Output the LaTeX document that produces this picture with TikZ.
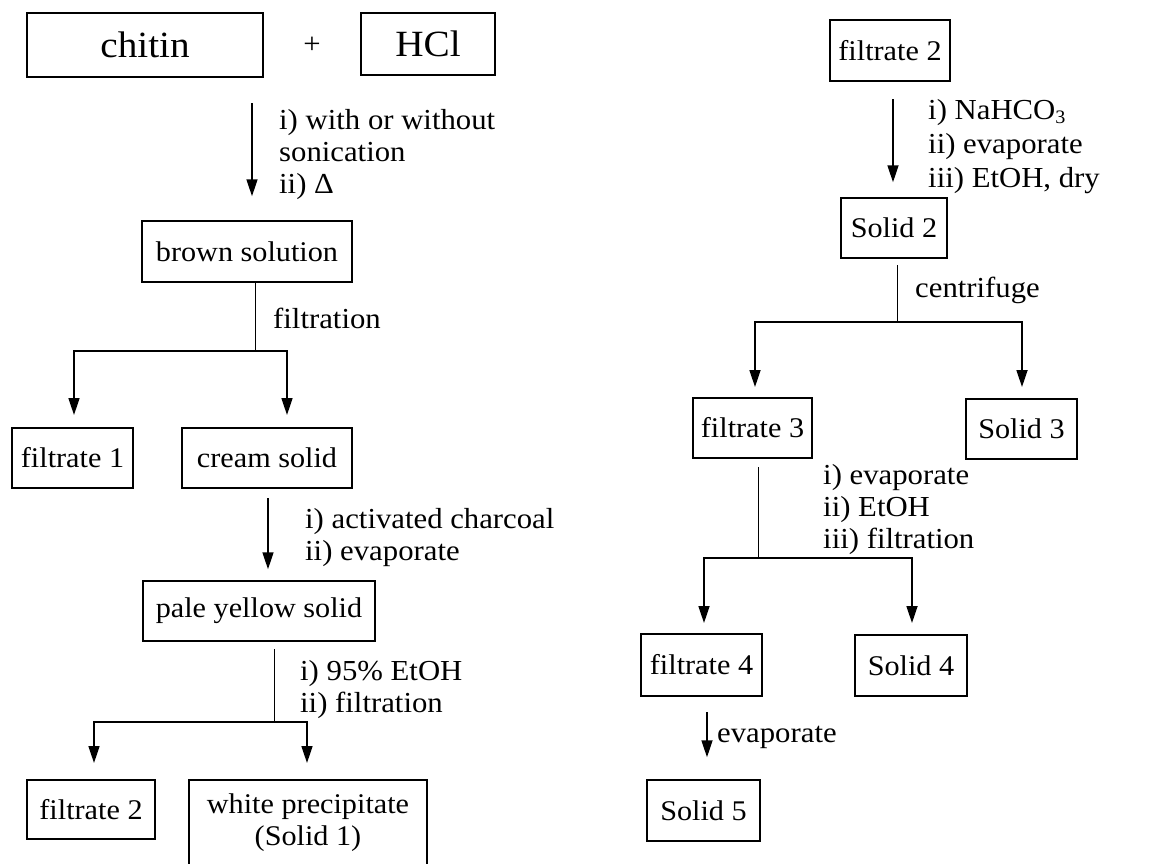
\documentclass[tikz,border=0pt]{standalone}
\usepackage{fontspec}
\setmainfont{Liberation Serif}[FakeStretch=1.06]
\usetikzlibrary{arrows.meta}
\begin{document}
\begin{tikzpicture}[x=1pt,y=-1pt,
  box/.style={draw,line width=1.5pt,inner sep=0pt,font=\fontsize{28.5}{32}\selectfont},
  bigbox/.style={box,font=\fontsize{37}{44}\selectfont},
  lbl/.style={anchor=base west,align=left,inner sep=0pt,font=\fontsize{29}{32}\selectfont},
  arr/.style={line width=1.7pt,-{Triangle[length=17pt,width=11pt]}},
  stem/.style={line width=0.9pt},
  branch/.style={line width=1.7pt,-{Triangle[length=17pt,width=11pt]}}]
\useasboundingbox (0,0) rectangle (1162,863);
\fill[white] (0,0) rectangle (1162,863);
% ---------- left column ----------
\node[bigbox,minimum width=236pt,minimum height=64pt] (chitin) at (145,45) {chitin};
\node[font=\fontsize{29}{33}\selectfont] (plus) at (312,45) {+};
\node[bigbox,minimum width=134pt,minimum height=62pt] (hcl) at (428,44) {HCl};
\node[box,minimum width=210pt,minimum height=61pt] (brown) at (247,251.5) {brown solution};
\node[box,minimum width=121pt,minimum height=60pt] (f1) at (72.5,458) {filtrate 1};
\node[box,minimum width=170pt,minimum height=60pt] (cream) at (267,458) {cream solid};
\node[box,minimum width=232pt,minimum height=60pt] (pale) at (259,611) {pale yellow solid};
\node[box,minimum width=128pt,minimum height=59pt] (f2l) at (91,809.5) {filtrate 2};
\node[box,minimum width=238pt,minimum height=86pt,align=center] (white) at (308,823) {white precipitate\\(Solid 1)};

\coordinate (a1s) at (252,103);
\draw[arr,shorten >=24pt] (a1s) -- (a1s |- brown.north);
\node[lbl] (l1) at (279,193) {i) with or without\\sonication\\ii) Δ};

\coordinate (s1) at (255,351);
\draw[stem] (s1 |- brown.south) -- (s1);
\draw[branch,shorten >=13pt] (s1) -| (74,428);
\draw[branch,shorten >=13pt] (s1) -| (287,428);
\node[lbl] (l2) at (273,328) {filtration};

\coordinate (a2s) at (268,498);
\draw[arr,shorten >=11pt] (a2s) -- (a2s |- pale.north);
\node[lbl] (l3) at (305,560) {i) activated charcoal\\ii) evaporate};

\coordinate (s2) at (274,722);
\draw[stem] (274,649) -- (s2);
\draw[branch,shorten >=17pt] (s2) -| (94,780);
\draw[branch,shorten >=17pt] (s2) -| (307,780);
\node[lbl] (l4) at (300,712) {i) 95\% EtOH\\ii) filtration};

% ---------- right column ----------
\node[box,minimum width=120pt,minimum height=61pt] (f2r) at (890,50.5) {filtrate 2};
\node[box,minimum width=106pt,minimum height=60pt] (s2box) at (894,228) {Solid 2};
\node[box,minimum width=119pt,minimum height=60pt] (f3) at (752.5,428) {filtrate 3};
\node[box,minimum width=111pt,minimum height=60pt] (s3) at (1021.5,429) {Solid 3};
\node[box,minimum width=121pt,minimum height=62pt] (f4) at (701.5,665) {filtrate 4};
\node[box,minimum width=112pt,minimum height=61pt] (s4) at (911,665.5) {Solid 4};
\node[box,minimum width=113pt,minimum height=61pt] (s5) at (703.5,810.5) {Solid 5};

\coordinate (a3s) at (893,99);
\draw[arr,shorten >=15pt] (a3s) -- (a3s |- s2box.north);
\node[lbl,font=\fontsize{29}{34}\selectfont] (l5) at (928,187) {i) NaHCO\raisebox{-0.35ex}{\fontsize{19}{20}\selectfont 3}\\ii) evaporate\\iii) EtOH, dry};

\coordinate (s3c) at (897,322);
\draw[stem] (897,265) -- (s3c);
\draw[branch,shorten >=11pt] (s3c) -| (755,398);
\draw[branch,shorten >=12pt] (s3c) -| (1022,399);
\node[lbl] (l6) at (915,297) {centrifuge};

\coordinate (s4c) at (758,558);
\draw[stem] (758,467) -- (s4c);
\draw[branch,shorten >=11pt] (s4c) -| (704,634);
\draw[branch,shorten >=12pt] (s4c) -| (912,635);
\node[lbl] (l7) at (823,548) {i) evaporate\\ii) EtOH\\iii) filtration};

\coordinate (a4s) at (707,712);
\draw[arr,shorten >=22pt] (a4s) -- (a4s |- s5.north);
\node[lbl] (l8) at (717,742) {evaporate};
\end{tikzpicture}
\end{document}
